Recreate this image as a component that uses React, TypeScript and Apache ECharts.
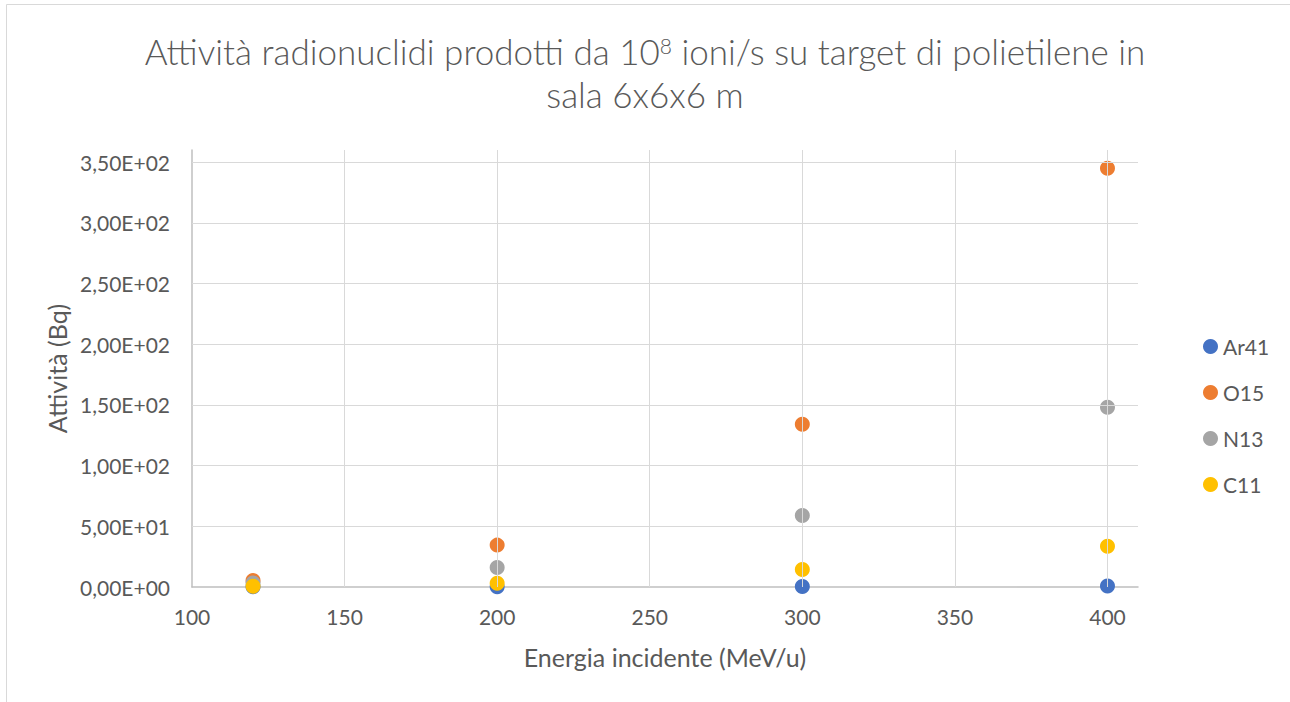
import React, { useEffect, useRef } from "react";
import * as echarts from "echarts";

const seriesNames = ["Ar41", "O15", "N13", "C11"];
const seriesColors = ["#4472C4", "#ED7D31", "#A5A5A5", "#FFC000"];
const energies = [120, 200, 300, 400];
const ar41 = [0.3, 0.2, 0.4, 0.9];
const o15 = [5.3, 34.5, 134, 345];
const n13 = [3.2, 16, 59, 148];
const c11 = [0.6, 3.0, 14.5, 33.5];
const xTicks = [150, 200, 250, 300, 350, 400];
const yTicks = [50, 100, 150, 200, 250, 300, 350];

const FONT = "Lato, 'Open Sans', sans-serif";
const TEXT = "#595959";

function sci(v: number): string {
  const [m, e] = v.toExponential(2).split("e");
  const n = parseInt(e, 10);
  return m.replace(".", ",") + "E" + (n < 0 ? "-" : "+") + String(Math.abs(n)).padStart(2, "0");
}

export default function App() {
  const ref = useRef<HTMLDivElement>(null);
  useEffect(() => {
    if (!ref.current) return;
    const chart = echarts.init(ref.current, undefined, { renderer: "svg" });
    const values = [ar41, o15, n13, c11];
    const scatter = seriesNames.map((name, i) => ({
      name,
      type: "scatter",
      symbol: "circle",
      symbolSize: 15,
      z: 3,
      itemStyle: { color: seriesColors[i], opacity: 1 },
      data: energies.map((x, j) => [x, values[i][j]]),
    }));
    const gridStyle = { color: "#d9d9d9", width: 1, type: "solid" };
    chart.setOption({
      animation: false,
      backgroundColor: "#ffffff",
      graphic: [
        {
          type: "rect",
          shape: { x: 6.5, y: 4.5, width: 1400, height: 800 },
          style: { fill: "none", stroke: "#d9d9d9", lineWidth: 1 },
          silent: true,
        },
      ],
      title: {
        text: "Attività radionuclidi prodotti da 10{sup|8} ioni/s su target di polietilene in\nsala 6x6x6 m",
        left: "center",
        top: 29,
        padding: 0,
        textStyle: {
          fontFamily: FONT,
          fontSize: 35,
          fontWeight: 300,
          color: TEXT,
          lineHeight: 43,
          rich: {
            sup: {
              fontFamily: FONT,
              fontSize: 21,
              fontWeight: 300,
              color: TEXT,
              verticalAlign: "top",
              padding: [6, 0, 0, 0],
            },
          },
        },
      },
      legend: {
        data: seriesNames,
        orient: "vertical",
        left: 1198,
        top: 331,
        icon: "circle",
        itemWidth: 15,
        itemHeight: 15,
        itemGap: 25,
        textStyle: { fontFamily: FONT, fontSize: 21, color: TEXT, lineHeight: 15 },
      },
      grid: { left: 192, right: 152, top: 150, bottom: 115, containLabel: false },
      xAxis: {
        type: "value",
        min: 100,
        max: 410,
        interval: 50,
        name: "Energia incidente (MeV/u)",
        nameLocation: "middle",
        nameGap: 57,
        nameTextStyle: { fontFamily: FONT, fontSize: 25, color: TEXT },
        axisLine: { show: true, lineStyle: { color: "#bfbfbf", width: 1.5 } },
        axisTick: { show: false },
        splitLine: { show: false },
        axisLabel: {
          showMaxLabel: false,
          margin: 19,
          fontFamily: FONT,
          fontSize: 21,
          color: TEXT,
        },
      },
      yAxis: {
        type: "value",
        min: 0,
        max: 360,
        interval: 50,
        name: "Attività (Bq)",
        nameLocation: "middle",
        nameGap: 123,
        nameTextStyle: { fontFamily: FONT, fontSize: 25, color: TEXT },
        axisLine: { show: true, lineStyle: { color: "#bfbfbf", width: 1.5 } },
        axisTick: { show: false },
        splitLine: { show: false },
        axisLabel: {
          showMaxLabel: false,
          margin: 22,
          fontFamily: FONT,
          fontSize: 21,
          color: TEXT,
          formatter: (v: number) => sci(v),
        },
      },
      series: [
        {
          name: "__grid",
          type: "line",
          data: [],
          z: 1,
          silent: true,
          markLine: {
            silent: true,
            symbol: ["none", "none"],
            label: { show: false },
            lineStyle: gridStyle,
            emphasis: { disabled: true },
            data: [
              ...xTicks.map((v) => ({ xAxis: v })),
              ...yTicks.map((v) => ({ yAxis: v })),
            ],
          },
        },
        ...scatter,
      ],
    });
    return () => chart.dispose();
  }, []);
  return (
    <div
      ref={ref}
      style={{ position: "absolute", left: 0, top: 0, width: 1290, height: 702 }}
    />
  );
}
